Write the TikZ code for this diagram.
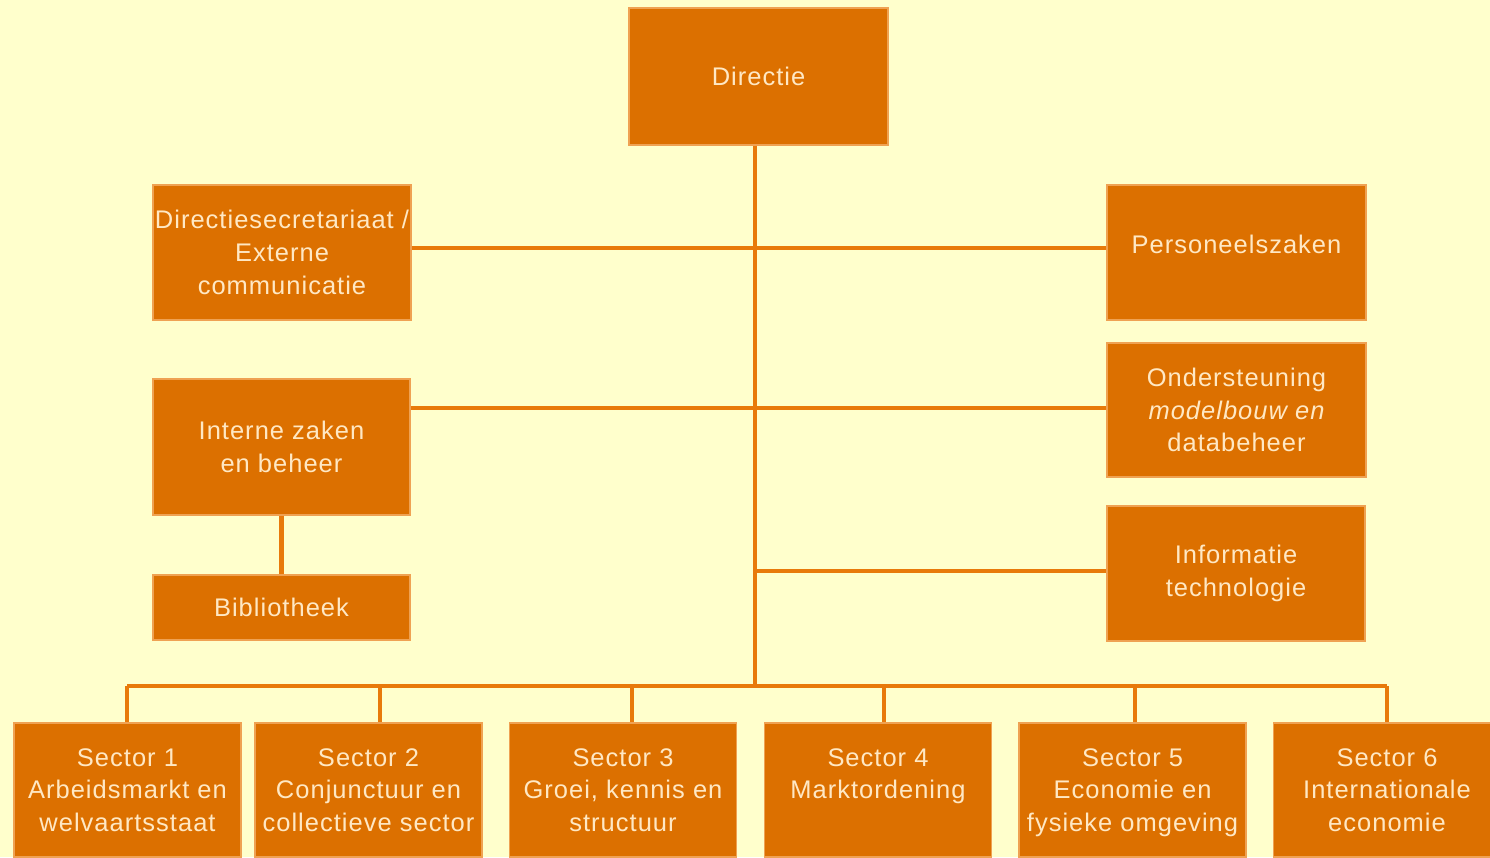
\documentclass[tikz,border=0pt]{standalone}
\usepackage{fontspec}
\setmainfont{Liberation Sans}[LetterSpace=4]
\usepackage{tikz}

\definecolor{bgyellow}{RGB}{255,255,204}
\definecolor{boxorange}{RGB}{220,112,0}
\definecolor{lineorange}{RGB}{232,122,10}
\definecolor{textpeach}{RGB}{255,232,196}

\begin{document}
\begin{tikzpicture}[
		box_style/.style={rectangle,draw=lineorange!70!white,line width=0.6pt,fill=boxorange,
			text=textpeach,align=center,inner sep=0pt,
			font=\fontsize{14.5}{18.6}\selectfont},
		edge_style/.style={draw=lineorange,line width=2.3pt}]

		\fill[bgyellow] (0,0) rectangle (29.8,-17.14);
		\useasboundingbox (0,0) rectangle (29.8,-17.14);

		\node[box_style,minimum width=5.18cm,minimum height=2.74cm] (n0) at (15.17,-1.53) {Directie};
		\node[box_style,minimum width=5.16cm,minimum height=2.70cm] (n1) at (5.64,-5.05) {Directiesecretariaat /\\Externe\\communicatie};
		\node[box_style,minimum width=5.18cm,minimum height=2.70cm] (n2) at (24.73,-5.05) {Personeelszaken\\[-0.32cm]};
		\node[box_style,minimum width=5.14cm,minimum height=2.72cm] (n3) at (5.63,-8.94) {Interne zaken\\en beheer};
		\node[box_style,minimum width=5.14cm,minimum height=1.30cm] (n4) at (5.63,-12.15) {Bibliotheek};
		\node[box_style,minimum width=5.18cm,minimum height=2.68cm] (n5) at (24.73,-8.20) {Ondersteuning\\\itshape modelbouw en\\databeheer};
		\node[box_style,minimum width=5.16cm,minimum height=2.70cm] (n6) at (24.72,-11.47) {Informatie\\technologie};

		\node[box_style,minimum width=4.54cm,minimum height=2.68cm] (s1) at (2.55,-15.80) {Sector 1\\Arbeidsmarkt en\\welvaartsstaat};
		\node[box_style,minimum width=4.54cm,minimum height=2.68cm] (s2) at (7.37,-15.80) {Sector 2\\Conjunctuur en\\collectieve sector};
		\node[box_style,minimum width=4.54cm,minimum height=2.68cm] (s3) at (12.46,-15.80) {Sector 3\\Groei, kennis en\\structuur};
		\node[box_style,minimum width=4.54cm,minimum height=2.68cm] (s4) at (17.56,-15.80) {Sector 4\\Marktordening\\\mbox{}};
		\node[box_style,minimum width=4.54cm,minimum height=2.68cm] (s5) at (22.65,-15.80) {Sector 5\\Economie en\\\raisebox{0pt}[\height][0pt]{fysieke omgeving}};
		\node[box_style,minimum width=4.54cm,minimum height=2.68cm] (s6) at (27.74,-15.80) {Sector 6\\Internationale\\economie};

		% junctions
		\coordinate (j0) at (15.10,-13.72);
		\coordinate (j1) at (15.10,-4.96);
		\coordinate (j2) at (15.10,-8.16);
		\coordinate (j3) at (15.10,-11.42);
		\coordinate (d1) at (2.54,-13.72);
		\coordinate (d2) at (7.60,-13.72);
		\coordinate (d3) at (12.64,-13.72);
		\coordinate (d4) at (17.68,-13.72);
		\coordinate (d5) at (22.70,-13.72);
		\coordinate (d6) at (27.74,-13.72);

		\draw[edge_style] (n0.south -| j0) -- (j0);
		\draw[edge_style] (n1.east |- j1) -- (n2.west |- j1);
		\draw[edge_style] (n3.east |- j2) -- (n5.west |- j2);
		\draw[edge_style] (j3) -- (n6.west |- j3);
		\draw[edge_style] (n3) -- (n4);
		\draw[edge_style] (d1) -- (d6);
		\foreach \i in {1,...,6}
			\draw[edge_style] (d\i) -- (d\i |- s\i.north);

\end{tikzpicture}
\end{document}
